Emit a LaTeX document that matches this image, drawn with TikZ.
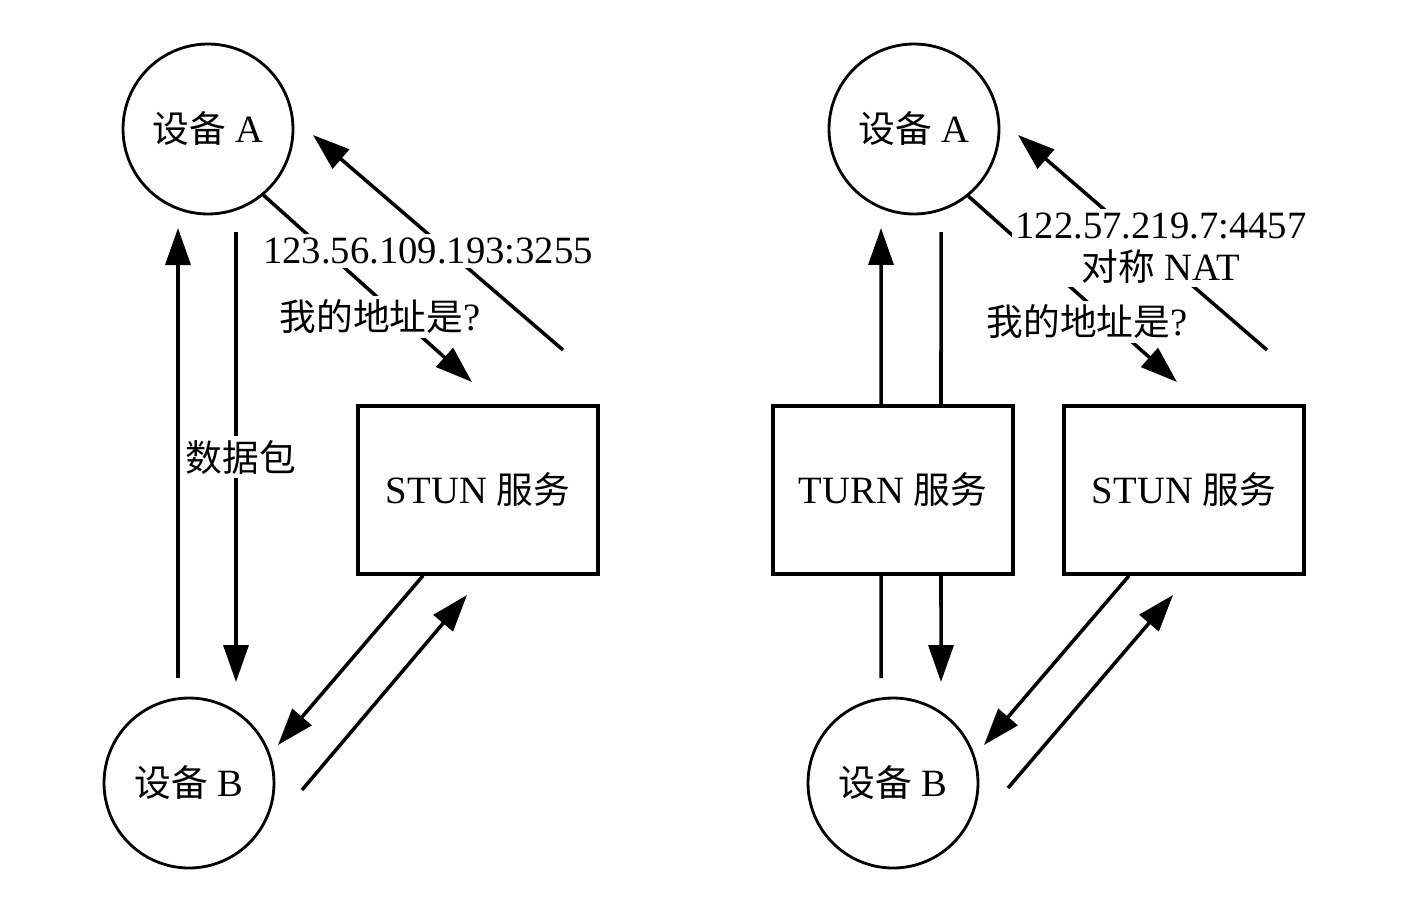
\documentclass[tikz,border=0pt]{standalone}
\usepackage{fontspec}
\setmainfont{Liberation Serif}
\newfontfamily\cjk{Noto Sans CJK SC}[Scale=0.95]
\newcommand{\zh}[1]{{\cjk #1}}
\usetikzlibrary{arrows.meta}

\begin{document}
\begin{tikzpicture}[x=0.02cm,y=-0.02cm,
		font=\fontsize{22}{24}\selectfont,
		dev/.style={draw,circle,line width=1.6pt,minimum size=3.4cm,inner sep=0pt},
		srv/.style={draw,rectangle,line width=2pt,minimum width=4.8cm,minimum height=3.36cm},
		lab/.style={fill=white,inner sep=2pt,align=center},
		link/.style={line width=2pt},
		arr/.style={link,-{Triangle[length=0.74cm,width=0.5cm]}}]
		\useasboundingbox (0,0) rectangle (1416,920);
		\node[dev] (devAL) at (208,129) {\zh{设备} A};
		\node[dev] (devBL) at (189,783) {\zh{设备} B};
		\node[srv] (stunL) at (478,490) {STUN \zh{服务}};
		\node[dev] (devAR) at (914,129) {\zh{设备} A};
		\node[dev] (devBR) at (893,783) {\zh{设备} B};
		\node[srv] (turnR) at (893,490) {TURN \zh{服务}};
		\node[srv] (stunR) at (1184,490) {STUN \zh{服务}};
		\coordinate (upLS) at (178,678);
		\coordinate (upLE) at (178,228);
		\coordinate (dnLS) at (236,232);
		\coordinate (dnLE) at (236,682);
		\coordinate (askLE) at (472,382);
		\coordinate (ansLS) at (563,350);
		\coordinate (ansLE) at (313,135);
		\coordinate (relLE) at (278,745);
		\coordinate (reqLS) at (302,790);
		\coordinate (reqLE) at (467,595);
		\coordinate (upRS) at (881,678);
		\coordinate (upRE) at (881,228);
		\coordinate (dnRS) at (941,232);
		\coordinate (dnRE) at (941,682);
		\coordinate (askRE) at (1177,382);
		\coordinate (ansRS) at (1267,350);
		\coordinate (ansRE) at (1018,135);
		\coordinate (relRE) at (984,745);
		\coordinate (reqRS) at (1008,788);
		\coordinate (reqRE) at (1173,595);
		\draw[arr] (upLS) -- (upLE);
		\draw[arr] (dnLS) -- (dnLE);
		\draw[arr] (devAL.-50) -- (askLE);
		\draw[arr] (ansLS) -- (ansLE);
		\draw[arr] ([xshift=-1.1cm]stunL.south) -- (relLE);
		\draw[arr] (reqLS) -- (reqLE);
		\draw[link] (upRS) -- ([xshift=-0.24cm]turnR.south);
		\draw[arr] ([xshift=-0.24cm]turnR.north) -- (upRE);
		\draw[link] (dnRS) -- ([xshift=0.96cm]turnR.north);
		\draw[arr] ([xshift=0.96cm]turnR.south) -- (dnRE);
		\draw[arr] (devAR.-51) -- (askRE);
		\draw[arr] (ansRS) -- (ansRE);
		\draw[arr] ([xshift=-1.1cm]stunR.south) -- (relRE);
		\draw[arr] (reqRS) -- (reqRE);
		\node[lab] (ipL) at (428,251) {123.56.109.193:3255};
		\node[lab] (askL) at (380,317) {\zh{我的地址是}?};
		\node[lab] (pktL) at (241,457) {\zh{数据包}};
		\node[lab] (ipR) at (1161,248) {122.57.219.7:4457\\\zh{对称} NAT};
		\node[lab] (askR) at (1087,322) {\zh{我的地址是}?};
\end{tikzpicture}
\end{document}
